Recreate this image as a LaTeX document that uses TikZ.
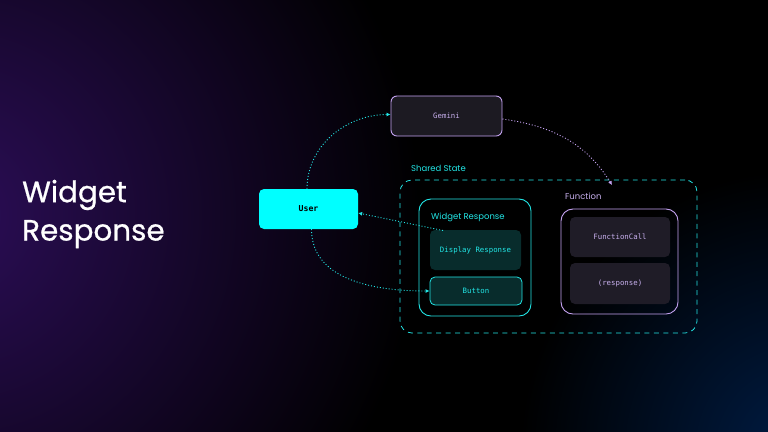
\documentclass[tikz,border=0pt]{standalone}
\usepackage{fontspec}
\setmainfont{Poppins}
\newfontfamily\titlef{Poppins}[FakeBold=0.7]
\newfontfamily\monof{DejaVu Sans Mono}
\usetikzlibrary{arrows.meta}
\definecolor{cyanc}{HTML}{00FFFF}
\definecolor{cyanl}{HTML}{22E6E6}
\definecolor{lav}{HTML}{C5A3F2}
\definecolor{lavtext}{HTML}{C8B0EE}
\definecolor{gemfill}{HTML}{1C1A22}
\definecolor{tealfill}{HTML}{082C2C}
\definecolor{funfill}{HTML}{1F1C27}
\definecolor{bgpurple}{HTML}{2C0E58}
\definecolor{bgblue}{HTML}{001C44}
\tikzset{
  monolbl/.style={font=\monof\fontsize{7.4}{9}\selectfont},
  grouplbl/.style={font=\fontsize{8.5}{10}\selectfont, anchor=west, inner sep=0pt},
  gembox/.style={draw=lav, line width=0.9pt, fill=gemfill, rounded corners=6pt, minimum width=111bp, minimum height=40bp, inner sep=0pt, text=lavtext, monolbl},
  userbox/.style={fill=cyanc, rounded corners=5pt, minimum width=99bp, minimum height=40bp, inner sep=0pt, text=black, font=\monof\bfseries\fontsize{8.2}{10}\selectfont},
  sharedbox/.style={draw=cyanl, line width=0.8pt, dash pattern=on 5pt off 4.5pt, rounded corners=12pt, minimum width=297bp, minimum height=153bp, inner sep=0pt},
  wgroupbox/.style={draw=cyanl, line width=0.9pt, rounded corners=12pt, minimum width=112bp, minimum height=117bp, inner sep=0pt},
  fgroupbox/.style={draw=lav, line width=0.9pt, rounded corners=12pt, minimum width=117bp, minimum height=105bp, inner sep=0pt},
  tealbox/.style={fill=tealfill, rounded corners=5pt, minimum width=91bp, minimum height=40bp, inner sep=0pt, text=cyanl, monolbl},
  btnbox/.style={fill=tealfill, draw=cyanl, line width=0.8pt, rounded corners=5pt, minimum width=92bp, minimum height=28bp, inner sep=0pt, text=cyanl, monolbl},
  funbox/.style={fill=funfill, rounded corners=5pt, minimum width=100bp, minimum height=40bp, inner sep=0pt, text=lavtext, monolbl},
  cyanconn/.style={draw=cyanl, line width=0.9pt, dash pattern=on 1pt off 2pt, -{Latex[length=4pt,width=4pt]}},
  lavconn/.style={draw=lav, line width=0.9pt, dash pattern=on 1pt off 2pt, -{Latex[length=4pt,width=4pt]}},
}
\begin{document}
\begin{tikzpicture}[x=1bp,y=-1bp]
\useasboundingbox (0,0) rectangle (768,431.6);
\begin{scope}
\clip (-2,-2) rectangle (770,434);
\fill[black] (-2,-2) rectangle (770,434);
\shade[inner color=bgpurple, outer color=black] (-50,215) circle (470);
\shade[inner color=bgblue, outer color=black] (800,450) circle (280);
\end{scope}

\node[anchor=west, text=white, font=\titlef\fontsize{29.5}{38.5}\selectfont, align=left, inner sep=0pt] (title) at (22,214) {Widget\\Response};

\node[sharedbox] (shared) at (548.5,256.5) {};
\node[grouplbl, text=cyanl] (sharedlbl) at (411,168) {Shared State};

\node[wgroupbox] (wgroup) at (475,257.5) {};
\node[grouplbl, text=cyanl] (wlbl) at (431,217) {Widget Response};
\node[tealbox] (disp) at (475.5,250) {Display Response};
\node[btnbox] (button) at (476,291) {Button};

\node[fgroupbox] (fgroup) at (619.5,261.5) {};
\node[grouplbl, text=lavtext] (flbl) at (565,196) {Function};
\node[funbox] (fcall) at (620,237) {FunctionCall};
\node[funbox, minimum height=41bp] (resp) at (620,283.5) {(response)};

\node[gembox] (gemini) at (446.5,116) {Gemini};
\node[userbox] (user) at (308.5,209) {User};

\coordinate (ftarget) at (612,185);
\coordinate (dstart) at (443,230.5);

\draw[cyanconn] ([xshift=-1.5bp]user.north) to[out=90,in=180] ([yshift=1.5bp]gemini.west);
\draw[lavconn] ([yshift=-3bp]gemini.east) to[out=-8,in=122] (ftarget);
\draw[cyanconn] (dstart) -- ([yshift=-4bp]user.east);
\draw[cyanconn] ([xshift=3bp]user.south) to[out=-90,in=180] (button.west);
\end{tikzpicture}
\end{document}
